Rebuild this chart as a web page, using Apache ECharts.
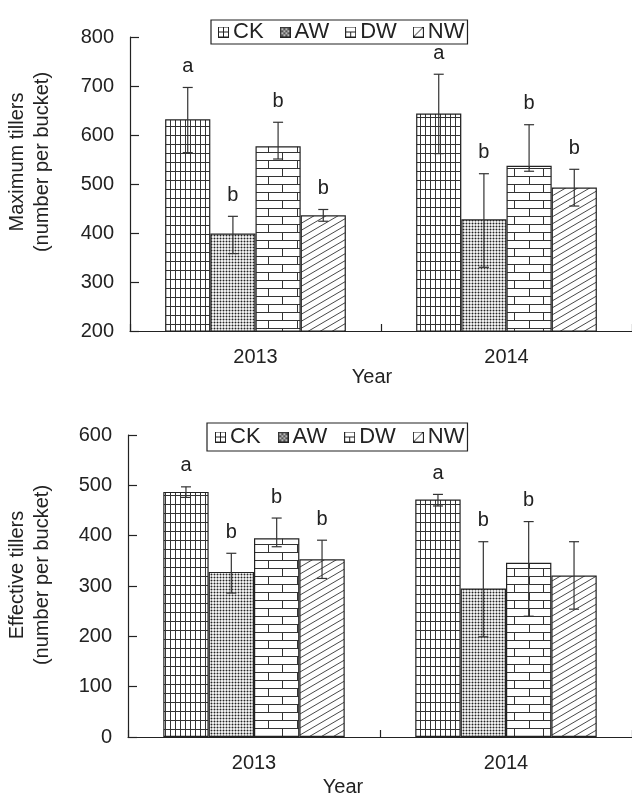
<!DOCTYPE html>
<html>
<head>
<meta charset="utf-8">
<script src="https://cdn.jsdelivr.net/npm/echarts@6/dist/echarts.min.js"></script>
<style>
html,body{margin:0;padding:0;background:#fff;}
#chart{width:632px;height:796px;}
</style>
</head>
<body>
<div id="chart"></div>
<script>
// ---------------- DATA ----------------
const years = ['2013', '2014'];
const treatments = ['CK', 'AW', 'DW', 'NW'];

// Maximum tillers (number per bucket): means per year
const maxCK = [632, 644];
const maxAW = [399, 428];
const maxDW = [577, 537];
const maxNW = [436, 493];
// error bar [low, high] per year
const maxErrCK = [[564, 697], [562, 724]];
const maxErrAW = [[358, 434], [330, 521]];
const maxErrDW = [[551, 626], [526, 621]];
const maxErrNW = [[424, 448], [455, 530]];
// significance letters [year][treatment]
const maxLetters = [['a', 'b', 'b', 'b'], ['a', 'b', 'b', 'b']];

// Effective tillers (number per bucket)
const effCK = [487, 472];
const effAW = [328, 295];
const effDW = [395, 346];
const effNW = [353, 321];
const effErrCK = [[476, 497], [459, 482]];
const effErrAW = [[286, 365], [199, 388]];
const effErrDW = [[378, 435], [240, 428]];
const effErrNW = [[315, 391], [254, 388]];
const effLetters = [['a', 'b', 'b', 'b'], ['a', 'b', 'b', '']];

const maxTicks = [200, 300, 400, 500, 600, 700, 800];
const effTicks = [0, 100, 200, 300, 400, 500, 600];

// ---------------- STYLE HELPERS ----------------
const INK = '#222';
const FONT = '"Liberation Sans", Arial, Helvetica, sans-serif';
const CAT_GAP = 0.28;

function tile(w, h, draw) {
  const c = document.createElement('canvas');
  c.width = w; c.height = h;
  const g = c.getContext('2d');
  g.fillStyle = '#fff'; g.fillRect(0, 0, w, h);
  g.strokeStyle = '#333'; g.fillStyle = '#333'; g.lineWidth = 1;
  draw(g, w, h);
  return c;
}
const patterns = {
  CK: tile(5, 9, (g, w, h) => {
    g.fillRect(0, 0, 1, h);
    g.fillRect(0, 0, w, 1);
  }),
  AW: tile(3, 3, (g) => {
    g.fillStyle = '#222';
    g.beginPath(); g.arc(1.5, 1.5, 1.0, 0, Math.PI * 2); g.fill();
  }),
  DW: tile(29, 16, (g, w, h) => {
    g.fillRect(0, 0, w, 1);
    g.fillRect(0, 8, w, 1);
    g.fillRect(7, 0, 1, 8);
    g.fillRect(21, 8, 1, 8);
  }),
  NW: tile(12, 7, (g, w, h) => {
    g.lineWidth = 0.9;
    for (const off of [-h, 0, h]) {
      g.beginPath();
      g.moveTo(-2, h + off + 2 * h / w);
      g.lineTo(w + 2, off - 2 * h / w);
      g.stroke();
    }
  })
};
function icon(type) {
  const s = 11;
  const c = document.createElement('canvas');
  c.width = s; c.height = s;
  const g = c.getContext('2d');
  g.fillStyle = '#fff'; g.fillRect(0, 0, s, s);
  g.strokeStyle = INK; g.fillStyle = INK; g.lineWidth = 1;
  if (type === 'AW') {
    g.fillStyle = '#555';
    g.fillRect(0, 0, s, s);
    g.fillStyle = '#fff';
    [[2, 2], [6, 2], [4, 4], [8, 4], [2, 6], [6, 6], [4, 8], [8, 8]].forEach(p => g.fillRect(p[0], p[1], 1.5, 1.5));
  }
  g.strokeRect(0.5, 0.5, s - 1, s - 1);
  g.beginPath();
  if (type === 'CK') { g.moveTo(5.5, 0); g.lineTo(5.5, s); g.moveTo(0, 5.5); g.lineTo(s, 5.5); }
  if (type === 'DW') { g.moveTo(0, 5.5); g.lineTo(s, 5.5); g.moveTo(5.5, 5.5); g.lineTo(5.5, s); }
  if (type === 'NW') { g.moveTo(0.5, s - 0.5); g.lineTo(s - 0.5, 0.5); }
  g.stroke();
  return 'image://' + c.toDataURL();
}
const legendIcons = treatments.map(t => ({ name: t, icon: icon(t) }));

// ---------------- BUILD ----------------
const grids = [
  { left: 130, top: 37, width: 502, height: 294 },
  { left: 128, top: 435, width: 505, height: 302 }
];
const panels = [
  { means: [maxCK, maxAW, maxDW, maxNW], errs: [maxErrCK, maxErrAW, maxErrDW, maxErrNW], letters: maxLetters, ticks: maxTicks },
  { means: [effCK, effAW, effDW, effNW], errs: [effErrCK, effErrAW, effErrDW, effErrNW], letters: effLetters, ticks: effTicks }
];

const series = [];
panels.forEach((p, gi) => {
  treatments.forEach((t, k) => {
    series.push({
      name: t, type: 'bar', xAxisIndex: gi, yAxisIndex: gi,
      data: p.means[k],
      barGap: '0%', barCategoryGap: (CAT_GAP * 100) + '%',
      itemStyle: { color: { image: patterns[t], repeat: 'repeat' }, borderColor: INK, borderWidth: 1.2 },
      emphasis: { disabled: true },
      animation: false
    });
  });
  const errData = [];
  years.forEach((y, i) => {
    treatments.forEach((t, k) => {
      errData.push([i, k, p.errs[k][i][0], p.errs[k][i][1]]);
    });
  });
  series.push({
    type: 'custom', xAxisIndex: gi, yAxisIndex: gi, z: 10, clip: false,
    encode: { x: 0, y: [2, 3] },
    data: errData,
    animation: false,
    renderItem: (params, api) => {
      const cat = api.value(0), k = api.value(1), lo = api.value(2), hi = api.value(3);
      const band = api.size([1, 0])[0];
      const barW = band * (1 - CAT_GAP) / 4;
      const pLo = api.coord([cat, lo]);
      const pHi = api.coord([cat, hi]);
      const x = pLo[0] + (k - 1.5) * barW;
      const cap = 5;
      const st = { stroke: '#333', lineWidth: 1.2 };
      const letter = p.letters[cat][k];
      const children = [
        { type: 'line', shape: { x1: x, y1: pLo[1], x2: x, y2: pHi[1] }, style: st },
        { type: 'line', shape: { x1: x - cap, y1: pHi[1], x2: x + cap, y2: pHi[1] }, style: st },
        { type: 'line', shape: { x1: x - cap, y1: pLo[1], x2: x + cap, y2: pLo[1] }, style: st }
      ];
      if (letter) {
        children.push({
          type: 'text', x: x, y: pHi[1] - 21,
          style: { text: letter, fill: INK, font: '20px ' + FONT, align: 'center', verticalAlign: 'middle' }
        });
      }
      return { type: 'group', children };
    }
  });
});

const option = {
  animation: false,
  backgroundColor: '#fff',
  textStyle: { fontFamily: FONT, color: INK },
  grid: grids.map(g => Object.assign({ containLabel: false }, g)),
  legend: [
    {
      data: legendIcons, left: 211, top: 20, orient: 'horizontal',
      itemWidth: 11, itemHeight: 11, itemGap: 16,
      padding: [1, 3, 1, 7], borderColor: INK, borderWidth: 1.2,
      textStyle: { fontSize: 22, color: INK, fontFamily: FONT, padding: [0, 0, 0, -1] },
      selectedMode: false
    },
    {
      data: legendIcons, left: 207, top: 423, orient: 'horizontal',
      itemWidth: 11, itemHeight: 11, itemGap: 17,
      padding: [3, 3, 3, 8], borderColor: INK, borderWidth: 1.2,
      textStyle: { fontSize: 22, color: INK, fontFamily: FONT, padding: [0, 0, 0, -1] },
      selectedMode: false
    }
  ],
  xAxis: [0, 1].map(gi => ({
    type: 'category', gridIndex: gi, data: years,
    axisLine: { lineStyle: { color: INK, width: 1.2 } },
    axisTick: { show: true, inside: true, length: 7, lineStyle: { color: INK, width: 1.2 } },
    axisLabel: { fontSize: 20, color: INK, margin: 16, fontFamily: FONT },
    splitLine: { show: false }
  })),
  yAxis: panels.map((p, gi) => ({
    type: 'value', gridIndex: gi,
    min: p.ticks[0], max: p.ticks[p.ticks.length - 1], interval: p.ticks[1] - p.ticks[0],
    axisLine: { show: true, lineStyle: { color: INK, width: 1.2 } },
    axisTick: { show: true, inside: true, length: 9, lineStyle: { color: INK, width: 1.2 } },
    axisLabel: { fontSize: 20, color: INK, margin: 16, fontFamily: FONT },
    splitLine: { show: false }
  })),
  graphic: [
    {
      type: 'text', x: 30, y: 162, rotation: Math.PI / 2,
      style: { text: 'Maximum tillers\n(number per bucket)', font: '20px ' + FONT, fill: INK, align: 'center', verticalAlign: 'middle', lineHeight: 25 }
    },
    {
      type: 'text', x: 30, y: 575, rotation: Math.PI / 2,
      style: { text: 'Effective tillers\n(number per bucket)', font: '20px ' + FONT, fill: INK, align: 'center', verticalAlign: 'middle', lineHeight: 25 }
    },
    {
      type: 'text', x: 372, y: 377,
      style: { text: 'Year', font: '20px ' + FONT, fill: INK, align: 'center', verticalAlign: 'middle' }
    },
    {
      type: 'text', x: 343, y: 787,
      style: { text: 'Year', font: '20px ' + FONT, fill: INK, align: 'center', verticalAlign: 'middle' }
    }
  ],
  series: series
};

const chart = echarts.init(document.getElementById('chart'), null, { renderer: 'canvas' });
chart.setOption(option);
</script>
</body>
</html>
